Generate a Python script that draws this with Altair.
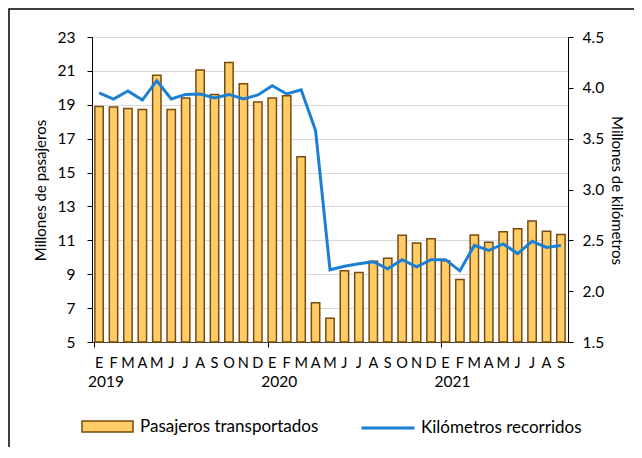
import json
import altair as alt
import pandas as pd

meses = ["E", "F", "M", "A", "M", "J", "J", "A", "S", "O", "N", "D"]
anios = ["2019", "2020", "2021"]

pasajeros = [18.90, 18.87, 18.78, 18.72, 20.75, 18.72, 19.40, 21.05, 19.60, 21.50, 20.24, 19.17,
             19.40, 19.53, 15.93, 7.31, 6.40, 9.20, 9.10, 9.76, 9.94, 11.30, 10.84, 11.10,
             9.80, 8.69, 11.32, 10.88, 11.51, 11.69, 12.14, 11.53, 11.35]
km = [3.95, 3.89, 3.97, 3.88, 4.07, 3.89, 3.935, 3.94, 3.90, 3.935, 3.89, 3.93,
      4.02, 3.94, 3.98, 3.58, 2.21, 2.245, 2.27, 2.29, 2.22, 2.31, 2.24, 2.31,
      2.31, 2.20, 2.45, 2.40, 2.465, 2.37, 2.49, 2.43, 2.45]

serie_bar = "Pasajeros transportados"
serie_line = "Kilómetros recorridos"

n = len(pasajeros)
df = pd.DataFrame({
    "i": list(range(n)),
    "pasajeros": pasajeros,
    "km": km,
    "serie1": [serie_bar] * n,
    "serie2": [serie_line] * n,
})

W, H = 476, 305
FONT = "Lato"
BAR_FILL = "#FFCC66"
BAR_STROKE = "#7A4A10"
LINE_COLOR = "#1C7FD4"

xscale = alt.Scale(paddingInner=0.42, paddingOuter=0.2)
month_expr = json.dumps(meses) + "[datum.value % 12]"
year_expr = json.dumps(anios) + "[floor(datum.value / 12)]"

border = alt.Chart(pd.DataFrame({"b": [0]})).mark_rect(
    fill="transparent", stroke="black", strokeWidth=1.5
).encode(
    x=alt.value(-83), x2=alt.value(W + 200),
    y=alt.value(-28), y2=alt.value(H + 200),
)

bars = alt.Chart(df).mark_bar(stroke=BAR_STROKE, strokeWidth=1.5).encode(
    x=alt.X("i:O", scale=xscale, axis=alt.Axis(
        orient="bottom", title=None, labelExpr=month_expr, labelAngle=0,
        ticks=False, tickSize=0, labelPadding=14, labelFontSize=14.5,
        domainColor="#404040", grid=False)),
    y=alt.Y("pasajeros:Q", scale=alt.Scale(domain=[5, 23], nice=False, zero=False),
            axis=alt.Axis(orient="left", values=list(range(5, 24, 2)),
                          title="Millones de pasajeros", grid=True,
                          tickSize=5, labelPadding=12, labelFontSize=15.5,
                          titleFontSize=15, titleAngle=270, titleBaseline="middle",
                          titleX=-52, titleY=153)),
    y2=alt.datum(5),
    fill=alt.Fill("serie1:N", scale=alt.Scale(range=[BAR_FILL]), legend=alt.Legend(
        title=None, orient="none", legendX=-11, legendY=363,
        symbolType="M-1,-0.22L1,-0.22L1,0.22L-1,0.22Z", symbolSize=2601,
        symbolStrokeColor=BAR_STROKE, symbolStrokeWidth=1.5,
        labelFontSize=17, labelFont=FONT, labelOffset=6, labelLimit=300,
        labelColor="black", padding=0)),
)

line = alt.Chart(df).mark_line(strokeWidth=3).encode(
    x=alt.X("i:O", scale=xscale, axis=alt.Axis(
        orient="bottom", title=None, values=[0, 12, 24], bandPosition=0,
        labelExpr=year_expr, labelAngle=0, ticks=True, tickSize=5,
        labelPadding=27, labelOffset=7, labelFontSize=15.5, domain=False, grid=False)),
    y=alt.Y("km:Q", scale=alt.Scale(domain=[1.5, 4.5], nice=False, zero=False),
            axis=alt.Axis(orient="right", values=[1.5, 2.0, 2.5, 3.0, 3.5, 4.0, 4.5],
                          format=".1f", title="Millones de kilómetros", grid=False,
                          tickSize=5, labelPadding=9, labelFontSize=15.5,
                          titleFontSize=15, titleAngle=90, titleBaseline="middle",
                          titleX=48, titleY=153)),
    stroke=alt.Stroke("serie2:N", scale=alt.Scale(range=[LINE_COLOR]), legend=alt.Legend(
        title=None, orient="none", legendX=268, legendY=363,
        symbolType="stroke", symbolSize=2809, symbolStrokeWidth=3,
        labelFontSize=17, labelFont=FONT, labelOffset=5, labelLimit=300,
        labelColor="black", padding=0)),
)

chart = alt.layer(border, bars, line).resolve_scale(
    y="independent"
).resolve_axis(
    x="independent"
).properties(
    width=W, height=H,
    padding={"left": 84, "top": 29, "right": 66, "bottom": 105},
    autosize=alt.AutoSizeParams(type="none"),
    background="white",
).configure_view(
    strokeWidth=0
).configure_axis(
    labelFont=FONT, titleFont=FONT, labelColor="black", titleColor="black",
    tickColor="black", domainColor="black", gridColor="#d9d9d9",
    titleFontWeight="normal",
)

chart.save("out.html", embed_options={"renderer": "svg", "actions": False})
